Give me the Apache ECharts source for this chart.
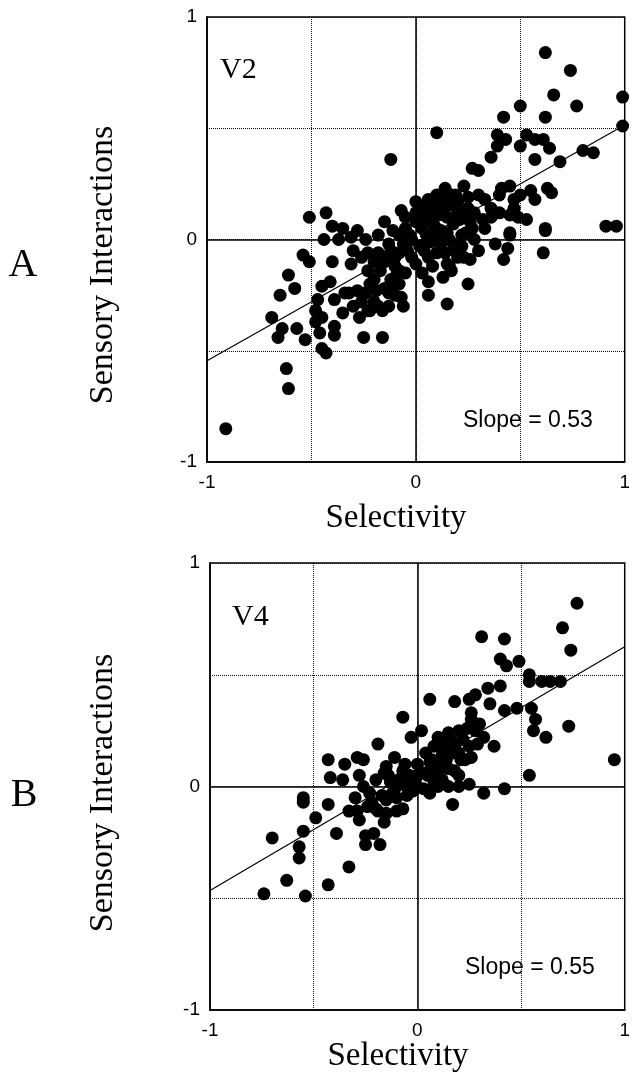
<!DOCTYPE html>
<html>
<head>
<meta charset="utf-8">
<script src="https://cdn.jsdelivr.net/npm/echarts@6/dist/echarts.min.js"></script>
<style>
html,body{margin:0;padding:0;background:#fff;}
#chart{width:633px;height:1074px;}
</style>
</head>
<body>
<div id="chart"></div>
<script>
// ---- data ----
const axisTicks = [-1, 0, 1];
const tickLabels = ['-1', '0', '1'];
const panelLetters = ['A', 'B'];
const areaNames = ['V2', 'V4'];
const slopeTexts = ['Slope = 0.53', 'Slope = 0.55'];
const xAxisName = 'Selectivity';
const yAxisName = 'Sensory Interactions';

const pointsV2 = [
  [0.62,0.84],[0.74,0.76],[0.99,0.64],[0.66,0.65],[0.77,0.60],[0.50,0.60],[0.42,0.55],[0.62,0.55],[0.99,0.51],
  [0.10,0.48],[0.39,0.47],[0.43,0.45],[0.53,0.47],[0.50,0.42],[0.57,0.45],[0.61,0.45],[0.64,0.41],[0.39,0.42],
  [0.36,0.37],[0.80,0.40],[0.85,0.39],[0.57,0.36],[0.69,0.35],[-0.12,0.36],[0.27,0.32],[0.30,0.31],[0.41,0.23],
  [0.45,0.24],[0.47,0.18],[0.63,0.23],[0.65,0.21],[0.57,0.18],[0.14,0.23],[0.23,0.24],[0.19,0.20],[0.30,0.20],
  [0.36,0.14],[0.40,0.12],[0.45,0.11],[0.49,0.10],[0.53,0.09],[0.32,0.09],[0.27,0.05],[0.62,0.05],[0.91,0.06],
  [0.96,0.06],[0.45,0.03],
  [0.00,0.17],[0.06,0.18],[-0.07,0.13],[-0.15,0.08],[-0.28,0.04],[-0.43,0.12],[-0.51,0.10],[-0.40,0.06],
  [-0.44,0.00],[-0.37,0.00],[-0.31,0.01],[-0.24,0.00],[-0.18,0.02],[-0.11,0.04],
  [0.25,0.19],[0.17,0.20],[0.12,0.17],[0.19,0.15],[0.25,0.14],[0.21,0.09],[0.15,0.10],[0.11,0.11],[0.04,0.11],
  [0.00,0.08],[0.03,0.05],[0.09,0.06],[0.15,0.03],[0.22,0.02],[0.19,-0.05],[0.23,-0.08],[0.26,-0.09],[0.16,-0.12],
  [0.13,-0.17],[0.06,-0.19],[0.25,-0.20],[0.06,-0.25],[0.15,-0.29],[0.10,-0.06],[0.04,-0.05],[0.00,-0.11],
  [-0.04,-0.05],[-0.08,-0.06],[-0.13,-0.02],[-0.18,-0.06],[-0.23,-0.06],[-0.26,-0.08],[-0.31,-0.11],[-0.23,-0.14],
  [-0.17,-0.14],[-0.08,-0.14],[-0.08,-0.20],[-0.12,-0.20],[-0.07,-0.26],[-0.06,-0.30],[-0.13,-0.24],[-0.19,-0.23],
  [-0.20,-0.28],[-0.24,-0.24],[-0.23,-0.32],[-0.27,-0.35],[-0.25,-0.44],[-0.16,-0.44],[-0.16,-0.32],[-0.32,-0.24],
  [-0.28,-0.23],[-0.45,-0.21],[-0.41,-0.19],[-0.39,-0.27],[-0.47,-0.27],[-0.48,-0.32],[-0.45,-0.35],[-0.48,-0.37],
  [-0.39,-0.39],[-0.39,-0.43],[-0.46,-0.42],[-0.54,-0.07],[-0.51,-0.10],[-0.61,-0.16],[-0.58,-0.22],[-0.65,-0.25],
  [-0.69,-0.35],[-0.64,-0.40],[-0.57,-0.40],
  [-0.66,-0.44],[-0.53,-0.45],[-0.62,-0.58],[-0.61,-0.67],[-0.91,-0.85],[-0.45,-0.49],[-0.43,-0.51],[-0.34,-0.24],
  [-0.22,-0.32],[-0.13,-0.30],[-0.09,-0.15],[-0.12,-0.18],[0.17,-0.14],[0.15,-0.11],[0.06,-0.08],[0.42,-0.09],
  [0.44,-0.04],[0.38,-0.02],[0.45,0.02],[0.61,-0.06],[0.62,0.04],
  [0.02,0.14],[0.08,0.13],[0.10,0.20],[0.05,0.02],[0.12,0.04],[0.18,0.07],[0.20,0.12],[0.08,0.09],[-0.03,0.02],
  [-0.05,0.10],[0.14,0.14],[0.28,0.12],[0.33,0.18],[0.24,0.03],[0.12,-0.02],[0.07,-0.01],[0.02,-0.03],[-0.02,0.00],
  [0.18,-0.02],[0.22,-0.03],[0.30,-0.05],[0.16,0.00],[-0.06,-0.02],[-0.10,-0.08],[-0.02,-0.08],[0.02,-0.03],
  [-0.20,-0.10],[-0.15,-0.10],[-0.10,-0.12],[-0.05,-0.15],[-0.20,-0.18],[-0.15,-0.22],[-0.10,-0.25],[-0.18,-0.30],
  [-0.22,-0.20],[-0.26,-0.28],[-0.30,-0.30],[-0.35,-0.33],[-0.12,-0.05],[-0.05,0.05],[0.00,0.12],[0.05,0.15],
  [0.10,0.15],[0.15,0.18],[0.20,0.17],[0.23,0.10],[0.26,0.08],[0.10,0.02],[0.05,0.08],[-0.08,0.02],[-0.14,-0.08],
  [0.20,-0.08],[0.14,-0.06],[0.08,-0.12],[0.03,-0.15],[0.28,0.00],[0.33,0.05],[0.36,0.10],[0.40,0.20],[0.50,0.20],
  [0.47,0.14],[0.55,0.22],[-0.35,0.05],[-0.30,-0.05],[-0.40,-0.10]
];

const pointsV4 = [
  [0.77,0.82],[0.70,0.71],[0.31,0.67],[0.42,0.66],[0.74,0.61],[0.40,0.57],[0.43,0.54],[0.49,0.56],[0.54,0.50],
  [0.54,0.47],[0.60,0.47],[0.64,0.47],[0.69,0.47],[0.34,0.44],[0.40,0.45],[0.28,0.41],[0.25,0.39],[0.06,0.39],
  [0.18,0.38],[0.35,0.37],[0.26,0.33],[0.26,0.30],[0.42,0.34],[0.48,0.35],[0.55,0.35],[0.57,0.30],[0.56,0.25],
  [0.62,0.22],[0.73,0.27],[-0.07,0.31],[0.02,0.25],[-0.03,0.22],[-0.19,0.19],[0.10,0.22],[0.15,0.24],[0.20,0.25],
  [0.24,0.26],[0.32,0.22],[0.29,0.19],[0.37,0.18],[0.95,0.12],
  [-0.43,0.12],[-0.35,0.10],[-0.29,0.13],[-0.26,0.12],[-0.11,0.13],[-0.06,0.10],[-0.15,0.09],[0.04,0.15],
  [0.07,0.12],[0.12,0.14],[0.17,0.15],[0.21,0.12],[0.26,0.13],[0.07,0.09],[0.12,0.09],[0.18,0.07],[0.10,0.06],
  [0.06,0.11],[0.14,0.12],[0.23,0.12],
  [-0.42,0.04],[-0.36,0.03],[-0.28,0.05],[-0.26,0.00],[-0.20,0.03],[-0.16,0.06],[-0.13,0.02],[-0.09,0.03],
  [-0.04,0.05],[-0.01,0.02],[0.03,-0.01],[0.06,-0.03],[0.10,0.00],[0.15,0.00],[0.20,0.00],[0.25,0.01],
  [0.32,-0.03],[0.42,-0.01],[0.54,0.05],[0.17,-0.08],[-0.05,-0.04],[-0.12,-0.03],[-0.17,-0.04],[-0.23,-0.03],
  [-0.55,-0.05],[-0.55,-0.07],[-0.43,-0.08],[-0.33,-0.11],[-0.29,-0.11],[-0.24,-0.09],[-0.15,-0.06],[-0.10,-0.11],
  [-0.07,-0.10],[-0.16,-0.16],[-0.28,-0.15],[-0.49,-0.14],[-0.55,-0.20],[-0.39,-0.21],[-0.25,-0.22],[-0.21,-0.21],
  [-0.25,-0.26],[-0.18,-0.26],[-0.57,-0.27],[-0.57,-0.32],[-0.70,-0.23],[-0.63,-0.42],[-0.74,-0.48],[-0.54,-0.49],
  [-0.43,-0.44],[-0.33,-0.36],[-0.19,-0.11],[-0.22,-0.07],[-0.14,0.05],
  [0.00,0.10],[0.03,0.06],[-0.07,0.07],[0.08,0.18],[0.13,0.19],[0.18,0.18],[0.22,0.21],[-0.02,-0.02],[0.12,0.03],
  [-0.10,0.00],
  [0.10,0.10],[0.15,0.08],[0.20,0.15],[0.25,0.18],[0.30,0.28],[0.28,0.25],[0.05,0.05],[0.00,0.05],[-0.05,0.00],
  [-0.10,-0.05],[-0.20,-0.10],[-0.30,-0.05],[-0.15,-0.12],[0.08,0.02],[0.20,0.05],[0.17,0.20],[0.12,0.17]
];

const fitV2 = [[-1, -0.545], [1, 0.515]];
const fitV4 = [[-1, -0.465], [1, 0.625]];

// ---- chart ----
const SERIF = '"Liberation Serif", "DejaVu Serif", serif';
const SANS = '"Liberation Sans", Arial, sans-serif';

function labelFmt(v) { const i = axisTicks.indexOf(v); return i >= 0 ? tickLabels[i] : ''; }
function xAx(gi) {
  return {
    gridIndex: gi, type: 'value', min: -1, max: 1, interval: 0.5,
    axisLine: { show: true, onZero: false, lineStyle: { color: '#000', width: 1.5 } },
    axisTick: { show: false },
    axisLabel: { color: '#000', fontFamily: SANS, fontSize: 19, margin: 11, formatter: labelFmt },
    splitLine: { show: true, lineStyle: { type: 'dotted', color: '#111', width: 1 } }
  };
}
function yAx(gi) {
  return {
    gridIndex: gi, type: 'value', min: -1, max: 1, interval: 0.5,
    axisLine: { show: true, onZero: false, lineStyle: { color: '#000', width: 1.5 } },
    axisTick: { show: false },
    axisLabel: { color: '#000', fontFamily: SANS, fontSize: 19, margin: 10, formatter: labelFmt },
    splitLine: { show: true, lineStyle: { type: 'dotted', color: '#111', width: 1 } }
  };
}
function scatter(gi, data) {
  return {
    type: 'scatter', xAxisIndex: gi, yAxisIndex: gi, data: data,
    symbol: 'circle', symbolSize: 13, itemStyle: { color: '#000', opacity: 1 },
    silent: true, z: 3,
    markLine: {
      silent: true, symbol: 'none', animation: false,
      label: { show: false },
      lineStyle: { color: '#000', type: 'solid', width: 1.5 },
      data: [{ xAxis: 0 }, { yAxis: 0 }]
    }
  };
}
function fit(gi, data) {
  return {
    type: 'line', xAxisIndex: gi, yAxisIndex: gi, data: data,
    symbol: 'none', lineStyle: { color: '#000', width: 1.2 }, silent: true, z: 4
  };
}
function txt(x, y, text, font, size, align, rot) {
  return {
    type: 'text', x: x, y: y, rotation: rot || 0, silent: true,
    style: { text: text, fontFamily: font, fontSize: size, fill: '#000', align: align || 'center', verticalAlign: 'middle' }
  };
}

const chart = echarts.init(document.getElementById('chart'), null, { renderer: 'canvas' });
chart.setOption({
  animation: false,
  backgroundColor: '#fff',
  grid: [
    { left: 207, top: 17, width: 420, height: 445, show: true, borderColor: '#000', borderWidth: 1.5, containLabel: false },
    { left: 210, top: 563, width: 422, height: 447, show: true, borderColor: '#000', borderWidth: 1.5, containLabel: false }
  ],
  xAxis: [xAx(0), xAx(1)],
  yAxis: [yAx(0), yAx(1)],
  series: [scatter(0, pointsV2), fit(0, fitV2), scatter(1, pointsV4), fit(1, fitV4)],
  graphic: [
    txt(23, 265, panelLetters[0], SERIF, 40),
    txt(24, 795, panelLetters[1], SERIF, 40),
    txt(103, 265, yAxisName, SERIF, 34, 'center', Math.PI / 2),
    txt(103, 793, yAxisName, SERIF, 34, 'center', Math.PI / 2),
    txt(396, 518, xAxisName, SERIF, 33),
    txt(398, 1056, xAxisName, SERIF, 33),
    txt(220, 70, areaNames[0], SERIF, 30, 'left'),
    txt(232, 617, areaNames[1], SERIF, 30, 'left'),
    txt(463, 421, slopeTexts[0], SANS, 23, 'left'),
    txt(465, 968, slopeTexts[1], SANS, 23, 'left')
  ]
});
</script>
</body>
</html>
